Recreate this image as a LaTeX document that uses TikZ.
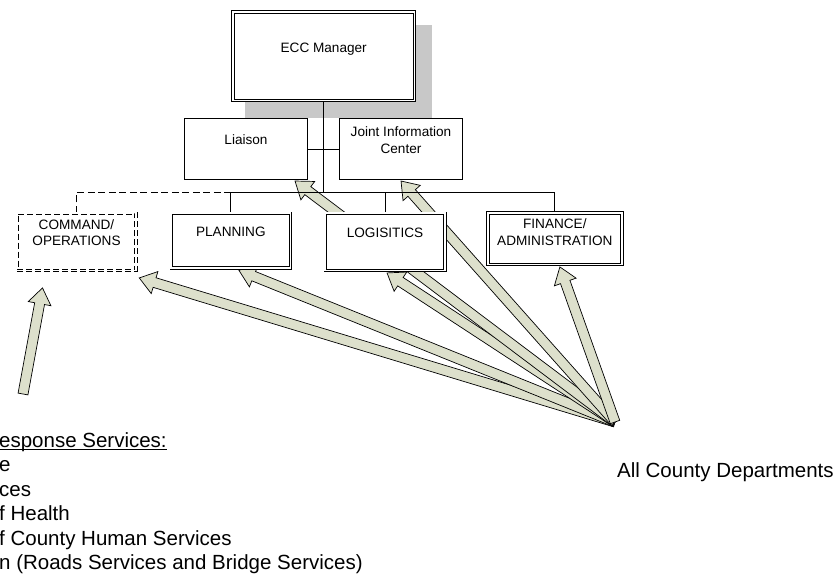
\documentclass[tikz,border=0pt]{standalone}
\usepackage{fontspec}
\setmainfont{Liberation Sans}
\usetikzlibrary{calc}
\definecolor{ArrowOlive}{HTML}{DDE0CC}
\definecolor{ShadowGray}{HTML}{C8C8C8}

\pgfdeclarelayer{background}
\pgfsetlayers{background,main}

\newcommand{\boxfont}{\fontsize{13.6}{16.6}\selectfont}
\newcommand{\listfont}{\fontsize{20.5}{24.5}\selectfont}
% box text, lifted towards the top edge
\newcommand{\boxtext}[2][7.5pt]{\raisebox{#1}[\height][\depth]{\begin{tabular}{@{}c@{}}#2\end{tabular}}}
\newlength{\ulwd}
\newcommand{\wordul}[1]{\settowidth{\ulwd}{#1}\rlap{\rule[-3pt]{\ulwd}{1pt}}#1}
% hollow block arrow from tail to tip
\newcommand{\blockarrow}[2]{%
  \path (#1) coordinate (ba-tail) (#2) coordinate (ba-tip);
  \pgfpointdiff{\pgfpointanchor{ba-tail}{center}}{\pgfpointanchor{ba-tip}{center}}%
  \pgfgetlastxy{\badx}{\bady}%
  \pgfmathsetmacro{\baang}{atan2(\bady,\badx)}%
  \pgfmathsetmacro{\balen}{veclen(\badx,\bady)}%
  \begin{scope}[shift={(ba-tail)}, rotate=\baang]
    \filldraw[olivearrow] (0,-5) -- (\balen-16,-5) -- (\balen-16,-11.5) -- (\balen,0)
      -- (\balen-16,11.5) -- (\balen-16,5) -- (0,5) -- cycle;
  \end{scope}}

\begin{document}
\begin{tikzpicture}[x=1pt, y=-1pt,
    mgrbox/.style={draw, double, double distance=1.8pt, line width=0.8pt, fill=white, inner sep=0pt, font=\boxfont},
    unitbox/.style={mgrbox},
    dashbox/.style={mgrbox, dash pattern=on 6pt off 3pt},
    staffbox/.style={draw, line width=1pt, fill=white, inner sep=0pt, font=\boxfont},
    link/.style={line width=1pt},
    dashlink/.style={link, dash pattern=on 7pt off 3.5pt},
    olivearrow/.style={fill=ArrowOlive, draw=black, line width=0.7pt, line join=miter},
    listtext/.style={inner sep=0pt, font=\listfont, anchor=base west}]
\useasboundingbox (0,0) rectangle (837,575);

% Manager and staff
\node[mgrbox, minimum width=181.6pt, minimum height=88.3pt] (ecc) at (323.7,56.3) {\boxtext[7pt]{ECC Manager}};
\node[staffbox, minimum width=123pt, minimum height=61pt] (liaison) at (246,149) {\boxtext[7.4pt]{Liaison}};
\node[staffbox, minimum width=123pt, minimum height=61pt] (jic) at (401,149) {\boxtext[7.4pt]{Joint Information\\Center}};

% Sections
\node[dashbox, minimum width=118.6pt, minimum height=57.3pt] (command) at (76.5,241.85) {\boxtext[7.7pt]{COMMAND/\\OPERATIONS}};
\node[unitbox, minimum width=119.3pt, minimum height=54.6pt] (plan) at (230.85,240.5) {\boxtext[6.9pt]{PLANNING}};
\node[unitbox, minimum width=119.6pt, minimum height=57.3pt] (logis) at (385,241.85) {\boxtext[7.9pt]{LOGISITICS}};
\node[unitbox, minimum width=133.9pt, minimum height=51.6pt] (finance) at (554.85,238.7) {\boxtext[4.8pt]{FINANCE/\\ADMINISTRATION}};

% Departments
\node[listtext] (svcHead) at (-1,447.3) {\wordul{esponse Services:}};
\foreach \txt [count=\i] in {e, ces, f Health, f County Human Services, n (Roads Services and Bridge Services)}
  \node[listtext] (svc\i) at (-1,447.3+24.5*\i) {\txt};
\node[listtext] (deptText) at (617,477) {All County Departments};

\coordinate (bus) at (323.7,192.7);
\coordinate (depts) at (615,422);
\coordinate (svcTail) at (23,394);

\begin{pgfonlayer}{background}
  % shadow of the manager box
  \fill[ShadowGray] ($(ecc.north west)+(12.5,13)$) rectangle ($(ecc.south east)+(17,17)$);

  % Arrows
  \blockarrow{svcTail}{$(command.south)+(-34,17)$}
  \blockarrow{depts}{$(command.south east)+(3,7)$}
  \blockarrow{depts}{$(plan.south)+(8,2)$}
  \blockarrow{depts}{$(logis.south)+(2,2)$}
  \blockarrow{depts}{$(liaison.south east)+(-13,1)$}
  \blockarrow{depts}{$(jic.south)+(0,1)$}
  \blockarrow{depts}{$(finance.south)+(5,2)$}

  % Lines
  \draw[link] (ecc.south) -- (bus);
  \draw[link] (liaison.east) -- (jic.west);
  \draw[dashlink] (command.north) -- (command.north |- bus) -- (bus);
  \draw[link] (plan.north) -- (plan.north |- bus) -- (finance.north |- bus) -- (finance.north);
  \draw[link] (logis.north) -- (logis.north |- bus);
\end{pgfonlayer}
\end{tikzpicture}
\end{document}
